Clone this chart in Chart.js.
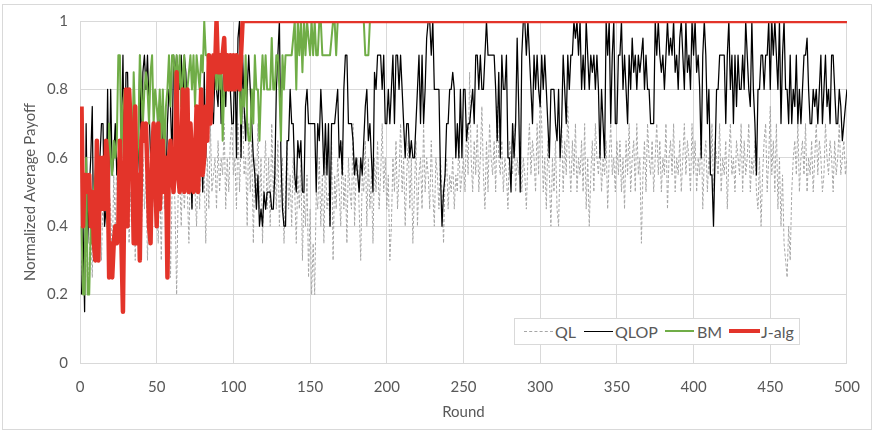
<!DOCTYPE html>
<html><head><meta charset="utf-8">
<script src="https://cdn.jsdelivr.net/npm/chart.js@4.4.0/dist/chart.umd.min.js"></script>
<style>
html,body{margin:0;padding:0;background:#fff;}
#wrap{position:relative;width:875px;height:435px;overflow:hidden;}
#frame{position:absolute;left:2px;top:4px;width:870px;height:426px;border:1px solid #d9d9d9;box-sizing:border-box;}
canvas{position:absolute;left:0;top:0;}
#legend{position:absolute;left:514px;top:318px;width:286px;height:27px;border:1px solid #d9d9d9;box-sizing:border-box;background:#fff;font-family:Lato,sans-serif;font-size:16px;color:#595959;}
.txt{position:absolute;top:0;height:25px;line-height:25px;}
.ln{position:absolute;height:0;}
</style></head>
<body>
<div id="wrap">
<div id="frame"></div>
<canvas id="c" width="875" height="435"></canvas>
<div id="legend">
  <div class="ln" style="left:9px;width:29px;top:12px;border-top:1px dashed #a6a6a6;"></div>
  <div class="txt" style="left:40px;">QL</div>
  <div class="ln" style="left:69px;width:29px;top:12px;border-top:1px solid #000;"></div>
  <div class="txt" style="left:100px;">QLOP</div>
  <div class="ln" style="left:150px;width:29px;top:11px;border-top:2px solid #70ad47;"></div>
  <div class="txt" style="left:182px;">BM</div>
  <div class="ln" style="left:214px;width:31px;top:10px;border-top:4px solid #e3342a;"></div>
  <div class="txt" style="left:246px;">J-alg</div>
</div>
</div>
<script>
const seriesNames = ['QL','QLOP','BM','J-alg'];
const xTicks = [0,50,100,150,200,250,300,350,400,450,500];
const yTicks = [0,0.2,0.4,0.6,0.8,1];

const QL = [
.3,.2,.25,.45,.2,.3,.4,.25,.45,.3,
.5,.35,.45,.3,.5,.4,.55,.35,.5,.45,
.3,.55,.4,.6,.35,.5,.3,.45,.55,.4,
.6,.35,.5,.45,.6,.3,.55,.4,.5,.35,
.6,.45,.55,.3,.5,.6,.4,.55,.45,.5,
.35,.55,.3,.6,.45,.5,.3,.55,.25,.5,
.6,.45,.2,.5,.55,.4,.6,.45,.55,.5,
.35,.6,.45,.65,.5,.4,.6,.45,.65,.5,
.55,.35,.6,.45,.7,.5,.55,.6,.45,.65,
.5,.6,.55,.7,.45,.6,.5,.65,.7,.55,
.6,.45,.7,.5,.65,.75,.55,.6,.4,.7,
.5,.65,.35,.6,.5,.7,.45,.6,.35,.55,
.65,.45,.6,.4,.7,.5,.6,.45,.65,.4,
.55,.6,.35,.5,.65,.45,.55,.4,.6,.5,
.35,.55,.45,.6,.3,.5,.4,.55,.25,.45,
.2,.35,.2,.5,.45,.6,.4,.55,.35,.6,
.45,.5,.4,.65,.3,.55,.45,.6,.5,.4,
.65,.45,.55,.35,.6,.5,.45,.7,.4,.55,
.6,.45,.3,.55,.5,.65,.4,.6,.45,.55,
.35,.6,.5,.65,.45,.55,.7,.5,.6,.45,
.55,.3,.4,.6,.5,.65,.45,.55,.7,.5,
.6,.4,.55,.65,.45,.6,.35,.5,.65,.4,
.55,.6,.45,.7,.5,.6,.55,.45,.65,.5,
.4,.6,.55,.45,.6,.5,.35,.55,.6,.45,
.55,.5,.6,.45,.55,.5,.65,.5,.55,.6,
.5,.7,.55,.85,.6,.5,.65,.55,.7,.5,
.6,.75,.55,.45,.65,.5,.7,.6,.55,.65,
.5,.75,.6,.55,.65,.5,.6,.55,.45,.65,
.6,.55,.7,.5,.6,.55,.65,.5,.6,.55,
.45,.6,.7,.55,.65,.6,.5,.7,.55,.8,
.7,.5,.6,.45,.65,.55,.4,.6,.5,.65,
.45,.4,.6,.7,.5,.65,.55,.75,.6,.5,
.65,.55,.7,.5,.6,.55,.65,.5,.7,.45,
.6,.4,.55,.65,.5,.7,.6,.55,.65,.5,
.6,.55,.65,.45,.6,.7,.55,.6,.5,.65,
.55,.65,.5,.6,.45,.65,.55,.7,.5,.6,
.65,.5,.7,.55,.6,.35,.55,.65,.5,.7,
.6,.55,.65,.5,.6,.7,.55,.65,.5,.6,
.55,.7,.45,.6,.65,.55,.7,.5,.6,.55,
.65,.5,.6,.7,.55,.65,.6,.5,.7,.55,
.65,.5,.6,.55,.7,.45,.6,.65,.5,.6,
.55,.7,.5,.65,.6,.55,.7,.5,.6,.55,
.65,.45,.6,.7,.55,.6,.5,.65,.6,.55,
.7,.5,.65,.55,.6,.7,.5,.6,.55,.65,
.5,.45,.6,.4,.55,.65,.7,.5,.6,.75,
.55,.65,.5,.7,.45,.6,.4,.55,.35,.3,
.25,.4,.3,.5,.6,.65,.55,.7,.5,.6,
.65,.55,.7,.5,.6,.55,.65,.5,.6,.7,
.55,.65,.6,.5,.55,.7,.6,.55,.65,.6,
.5,.65,.55,.6,.7,.55,.6,.65,.55,.6
];

const QLOP = [
.2,.4,.15,.7,.35,.5,.6,.75,.3,.45,
.6,.5,.6,.7,.7,.4,.45,.8,.45,.8,
.55,.6,.7,.55,.6,.6,.65,.9,.55,.85,
.85,.6,.7,.65,.55,.7,.5,.6,.9,.55,
.85,.9,.8,.9,.75,.6,.65,.55,.45,.7,
.55,.7,.75,.6,.65,.5,.7,.8,.75,.6,
.9,.85,.9,.85,.8,.9,.7,.9,.85,.7,
.5,.6,.45,.65,.5,.7,.6,.55,.7,.5,
.85,.6,.8,.75,.9,.75,.7,.85,.8,.75,
.9,.7,.8,.9,.75,.9,.8,.8,.7,.7,
.9,.6,.95,1,.6,.9,.75,.65,.8,.9,
.8,.7,.6,.55,.45,.55,.4,.45,.4,.5,
.45,.5,.5,.5,.45,.45,.55,.8,.9,1,
.6,.45,.4,.4,.65,.65,.8,.7,.7,.55,
.5,.65,.6,.65,.5,.5,.75,.8,.7,.7,
.7,.7,.7,.5,.7,.65,.8,.7,.55,.7,
.55,.7,.4,.7,.7,.7,.75,.8,.6,.65,
.55,.8,.9,.9,.7,.7,.7,.65,.55,.6,
.55,.5,.6,.55,.65,.75,.8,.65,.7,.6,
.5,.85,.8,.9,.9,.9,.8,.9,.7,.7,
.8,.7,.8,.9,.7,.9,.9,.8,.9,.8,
.7,.6,.7,.7,.6,.65,.6,.6,.7,.8,
.9,.7,.9,.7,.8,.95,1,1,.9,1,
.8,.8,.8,.8,.55,.4,.5,.55,.7,.7,
.8,.8,.85,.8,.6,.7,.6,.8,.6,.8,
.8,.65,.7,.7,.75,.8,.7,.9,.9,.8,
.9,.8,.8,.9,1,.9,.9,.9,.9,.9,
.8,.65,.85,.6,.9,.8,.8,.9,.6,.6,
.5,.7,.6,.7,.95,.75,.5,.9,1,1,
.9,1,.9,.8,.7,.9,.8,.9,.8,.75,
.9,.8,.9,.8,.7,.6,.8,.8,.8,.7,
.65,.8,.6,.7,.9,.8,.7,.9,.8,.9,
.9,1,.95,1,.9,1,.8,.9,.8,1,
.9,.8,.9,.85,.9,.8,.9,.8,.6,.8,
.7,.6,1,.9,1,.7,.9,1,.7,.7,
.9,.9,1,.8,.9,.8,.7,.9,.8,.95,
.85,.9,.8,.9,.85,.9,.95,.8,.9,.8,
.8,.7,.7,.7,1,.9,1,.9,.85,.9,
.8,.9,1,.9,.95,.9,1,.85,.9,.8,
.95,1,.9,.8,1,.85,.9,.8,1,.9,
1,.85,.9,.8,.6,.9,1,.9,.7,.8,
.55,.55,.4,.6,.8,.8,.9,.9,.9,.9,
.7,.9,1,.8,.9,.7,.9,.75,.9,.8,
.8,.9,.8,1,.9,.8,.75,1,.8,.7,
.55,.8,.8,.9,.9,.8,.9,.9,1,.8,
1,.9,1,.9,.8,1,.7,.9,1,.8,
.8,.7,.9,.7,.8,.75,.9,.7,.8,.7,
.8,.9,.9,.95,.8,.7,.7,.8,.75,.8,
.7,.8,.9,.7,.8,.9,.75,.8,.7,.9,
.9,.8,.7,.7,.8,.75,.65,.7,.75,.8
];

const BM = [
.4,.2,.2,.6,.2,.2,.4,.35,.5,.55,
.6,.35,.5,.6,.45,.6,.55,.4,.7,.6,
.55,.65,.6,.65,.9,.9,.6,.75,.8,.6,
.7,.65,.6,.55,.85,.7,.55,.65,.9,.8,
.7,.8,.85,.8,.7,.85,.9,.7,.8,.75,
.7,.8,.65,.8,.6,.75,.8,.9,.75,.9,
.9,.8,.9,.8,.9,.75,.85,.9,.7,.8,
.85,.9,.8,.9,.75,.9,.85,.8,.9,.85,
1,.9,.9,.85,.9,.8,.85,.9,.8,.9,
.8,.9,.65,.8,.9,.85,.9,.8,.9,.9,
.9,.8,.9,.8,.7,.8,.75,.9,.7,.65,
.65,.8,.7,.9,.8,.8,.65,.8,.9,.8,
.9,.8,.8,.8,.95,.8,.8,.9,.9,.8,
.65,.9,.8,.9,.9,.9,.9,.9,.95,1,
.8,1,.9,1,.85,1,.9,1,.95,.9,
1,.9,1,.9,.9,1,1,.9,.9,.9,
.9,.9,.9,.95,1,1,.9,1,1,1,
1,1,1,1,1,1,1,1,1,1,
1,1,1,1,1,.9,.9,.9,1,1,
1,1,1,1,1,1,1,1,1,1,
1,1,1,1,1,1,1,1,1,1,1,1,1,1,1,1,1,1,1,1,1,1,1,1,1,1,1,1,1,1,1,1,1,1,1,1,1,1,1,1,1,1,1,1,1,1,1,1,1,1,
1,1,1,1,1,1,1,1,1,1,1,1,1,1,1,1,1,1,1,1,1,1,1,1,1,1,1,1,1,1,1,1,1,1,1,1,1,1,1,1,1,1,1,1,1,1,1,1,1,1,
1,1,1,1,1,1,1,1,1,1,1,1,1,1,1,1,1,1,1,1,1,1,1,1,1,1,1,1,1,1,1,1,1,1,1,1,1,1,1,1,1,1,1,1,1,1,1,1,1,1,
1,1,1,1,1,1,1,1,1,1,1,1,1,1,1,1,1,1,1,1,1,1,1,1,1,1,1,1,1,1,1,1,1,1,1,1,1,1,1,1,1,1,1,1,1,1,1,1,1,1,
1,1,1,1,1,1,1,1,1,1,1,1,1,1,1,1,1,1,1,1,1,1,1,1,1,1,1,1,1,1,1,1,1,1,1,1,1,1,1,1,1,1,1,1,1,1,1,1,1,1,
1,1,1,1,1,1,1,1,1,1,1,1,1,1,1,1,1,1,1,1,1,1,1,1,1,1,1,1,1,1,1,1,1,1,1,1,1,1,1,1,1,1,1,1,1,1,1,1,1,1
];

const JALG = [
.75,.4,.55,.55,.5,.55,.4,.5,.35,.3,
.65,.3,.6,.45,.6,.45,.65,.6,.25,.35,
.25,.35,.4,.35,.4,.65,.35,.15,.55,.8,
.4,.8,.7,.6,.35,.75,.35,.55,.3,.65,
.7,.65,.7,.55,.4,.35,.6,.7,.55,.4,
.7,.45,.55,.65,.5,.6,.25,.6,.65,.55,
.5,.6,.85,.55,.5,.6,.8,.5,.65,.8,
.5,.7,.6,.5,.6,.75,.5,.65,.8,.55,
.6,.75,.65,.9,.7,.8,.9,.85,1,.85,
.9,.85,.9,.95,.8,.9,.8,.9,.8,.9,
.8,.9,.85,.8,.9,1,
1,1,1,1,1,1,1,1,1,1,1,1,1,1,1,1,1,1,1,1,1,1,1,1,1,1,1,1,1,1,1,1,1,1,1,1,1,1,1,1,1,1,1,1,1,1,1,1,1,1,
1,1,1,1,1,1,1,1,1,1,1,1,1,1,1,1,1,1,1,1,1,1,1,1,1,1,1,1,1,1,1,1,1,1,1,1,1,1,1,1,1,1,1,1,1,1,1,1,1,1,
1,1,1,1,1,1,1,1,1,1,1,1,1,1,1,1,1,1,1,1,1,1,1,1,1,1,1,1,1,1,1,1,1,1,1,1,1,1,1,1,1,1,1,1,1,1,1,1,1,1,
1,1,1,1,1,1,1,1,1,1,1,1,1,1,1,1,1,1,1,1,1,1,1,1,1,1,1,1,1,1,1,1,1,1,1,1,1,1,1,1,1,1,1,1,1,1,1,1,1,1,
1,1,1,1,1,1,1,1,1,1,1,1,1,1,1,1,1,1,1,1,1,1,1,1,1,1,1,1,1,1,1,1,1,1,1,1,1,1,1,1,1,1,1,1,1,1,1,1,1,1,
1,1,1,1,1,1,1,1,1,1,1,1,1,1,1,1,1,1,1,1,1,1,1,1,1,1,1,1,1,1,1,1,1,1,1,1,1,1,1,1,1,1,1,1,1,1,1,1,1,1,
1,1,1,1,1,1,1,1,1,1,1,1,1,1,1,1,1,1,1,1,1,1,1,1,1,1,1,1,1,1,1,1,1,1,1,1,1,1,1,1,1,1,1,1,1,1,1,1,1,1,
1,1,1,1,1,1,1,1,1,1,1,1,1,1,1,1,1,1,1,1,1,1,1,1,1,1,1,1,1,1,1,1,1,1,1,1,1,1,1,1,1,1,1,1
];

function pts(arr){ return arr.map((v,i)=>({x:i+1,y:v})); }

const FONT = 'Lato, "Liberation Sans", sans-serif';
const TXT = '#595959';
const GRID = '#d9d9d9';
const FS = 15;

new Chart(document.getElementById('c'), {
  type: 'line',
  data: {
    datasets: [
      {label: seriesNames[0], data: pts(QL), borderColor:'#a6a6a6', borderWidth:1, borderDash:[3,2], order:3},
      {label: seriesNames[1], data: pts(QLOP), borderColor:'#000000', borderWidth:1.25, order:2},
      {label: seriesNames[2], data: pts(BM), borderColor:'#70ad47', borderWidth:2, order:1},
      {label: seriesNames[3], data: pts(JALG), borderColor:'#e3342a', borderWidth:4.5, order:0}
    ]
  },
  options: {
    responsive:false,
    animation:false,
    events:[],
    elements:{point:{radius:0}, line:{tension:0, borderJoinStyle:'round', fill:false}},
    layout:{padding:{left:0, top:21, right:24, bottom:0}},
    plugins:{legend:{display:false}, tooltip:{enabled:false}},
    scales:{
      x:{
        type:'linear', min:xTicks[0], max:xTicks[xTicks.length-1],
        afterBuildTicks(s){ s.ticks = xTicks.map(v=>({value:v})); },
        ticks:{color:TXT, font:{family:FONT, size:FS}, padding:15, maxRotation:0, autoSkip:false},
        grid:{color:GRID, drawTicks:false, lineWidth:1},
        border:{color:GRID},
        title:{display:true, text:'Round', color:TXT, font:{family:FONT, size:FS}, padding:{top:0, bottom:14}},
        afterFit(s){ s.height = 72; }
      },
      y:{
        min:yTicks[0], max:yTicks[yTicks.length-1],
        afterBuildTicks(s){ s.ticks = yTicks.map(v=>({value:v})); },
        ticks:{color:TXT, font:{family:FONT, size:FS}, padding:12, callback:v=>String(Math.round(v*10)/10)},
        grid:{color:GRID, drawTicks:false, lineWidth:1},
        border:{color:GRID},
        title:{display:true, text:'Normalized Average Payoff', color:TXT, font:{family:FONT, size:FS}, padding:{top:21, bottom:0}},
        afterFit(s){ s.width = 80; }
      }
    }
  }
});
</script>
</body></html>
